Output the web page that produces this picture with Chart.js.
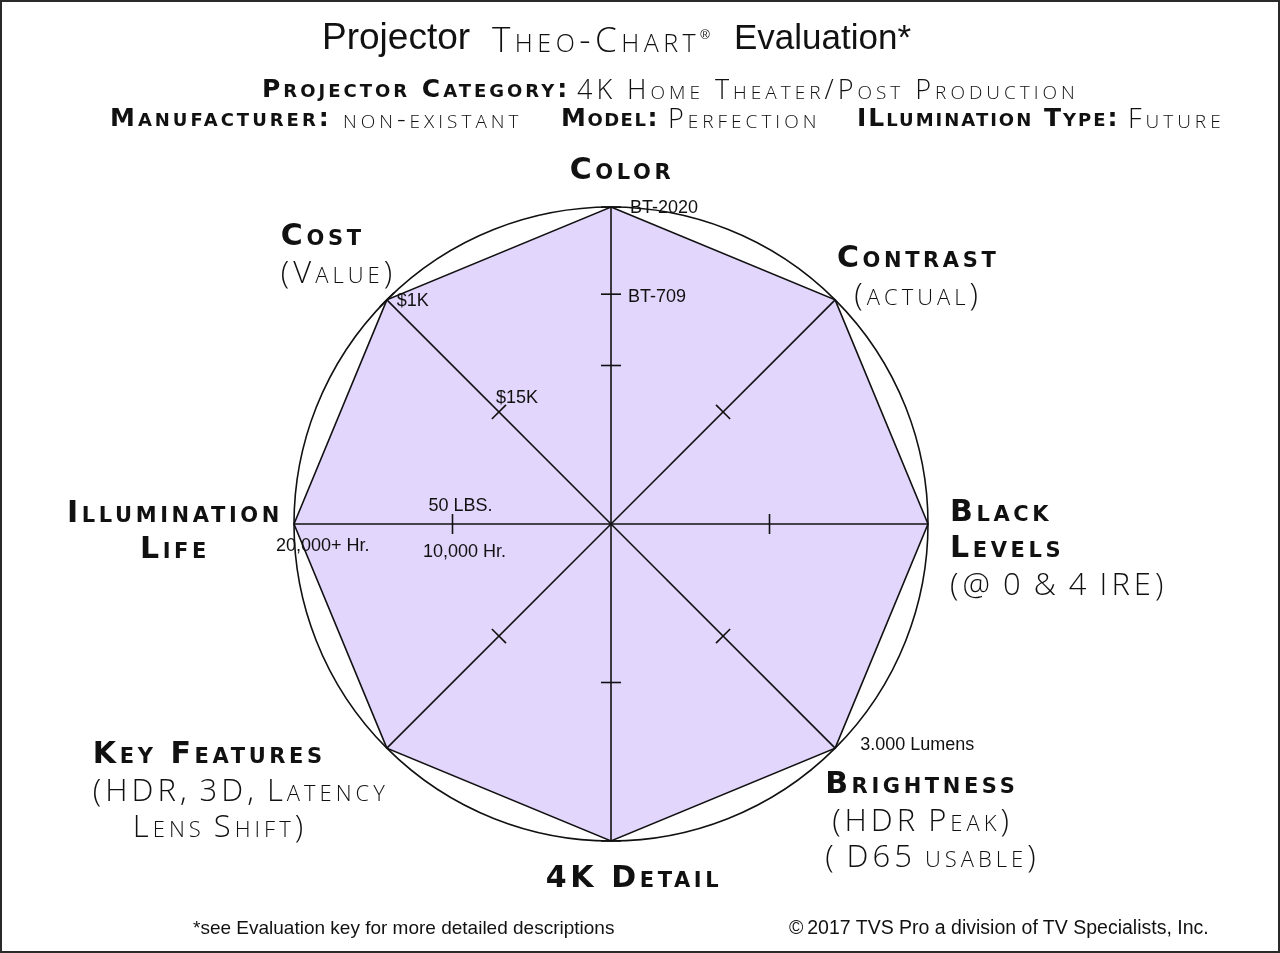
<!DOCTYPE html>
<html>
<head>
<meta charset="utf-8">
<script src="https://cdn.jsdelivr.net/npm/chart.js@4.4.1/dist/chart.umd.min.js"></script>
<style>
  html, body { margin: 0; padding: 0; background: #fff; }
  #wrap { position: relative; width: 1280px; height: 953px; overflow: hidden; }
  #wrap canvas { position: absolute; left: 0; top: 0; }
  .frame { position: absolute; left: 0; top: 0; width: 1280px; height: 953px; box-sizing: border-box;
           border: 2px solid #2a2a2a; pointer-events: none; }
  .txt { position: absolute; white-space: nowrap; color: #111; line-height: 1; }
  .cap { font-family: 'DejaVu Sans', sans-serif; font-variant: small-caps; }
  .b { font-weight: bold; }
  .l { font-family: 'Open Sans', 'DejaVu Sans', sans-serif; font-weight: 300; }
  .arial { font-family: 'Liberation Sans', Arial, sans-serif; }
  .hdr { font-size: 25px; letter-spacing: 3px; }
  .hdr.l { font-size: 27px; letter-spacing: 4px; }
  .lbl { position: absolute; white-space: nowrap; color: #111; line-height: 36px; }
  .lbl .b { font-size: 30px; letter-spacing: 3.6px; }
  .lbl .l { font-size: 31px; letter-spacing: 4px; word-spacing: -3px; }
  .note { position: absolute; white-space: nowrap; font-family: 'Liberation Sans', Arial, sans-serif;
          font-size: 18px; line-height: 1; color: #111; transform: translateY(-50%); }
</style>
</head>
<body>
<div id="wrap">
  <canvas id="radar" width="1280" height="953"></canvas>

  <div class="txt arial" style="left:322px; top:18px; font-size:37px;">Projector</div>
  <div class="txt cap l" style="left:492px; top:21px; font-size:35px; letter-spacing:4.5px;">Theo-Chart<sup style="font-family:'Liberation Sans',Arial,sans-serif; font-size:13px; letter-spacing:0;">&reg;</sup></div>
  <div class="txt arial" style="left:734px; top:19px; font-size:35px;">Evaluation*</div>

  <div class="txt cap hdr b" style="left:262px; top:76px;">Projector Category:</div>
  <div class="txt cap hdr l" style="left:577px; top:75px;">4K Home Theater/Post Production</div>
  <div class="txt cap hdr b" style="left:110px; top:105px;">Manufacturer:</div>
  <div class="txt cap hdr l" style="left:343px; top:104px;">non-existant</div>
  <div class="txt cap hdr b" style="left:561px; top:105px; letter-spacing:1.5px;">Model:</div>
  <div class="txt cap hdr l" style="left:668px; top:104px;">Perfection</div>
  <div class="txt cap hdr b" style="left:857px; top:105px; letter-spacing:2px;">ILlumination Type:</div>
  <div class="txt cap hdr l" style="left:1128px; top:104px;">Future</div>

  <div class="txt arial" style="left:193px; top:918px; font-size:19px;">*see Evaluation key for more detailed descriptions</div>
  <div class="txt arial" style="left:789px; top:918px; font-size:19.5px;">&copy;&thinsp;2017 TVS Pro a division of TV Specialists, Inc.</div>

  <div id="labels"></div>
  <div class="frame"></div>
</div>

<script>
// axes, clockwise from the top
const axisLabels = ['Color', 'Contrast', 'Black Levels', 'Brightness', '4K Detail', 'Key Features', 'Illumination Life', 'Cost'];
const scores = [10, 10, 10, 10, 10, 10, 10, 10];

// printed label lines per axis, and how many of them are the bold title
const labelLines = [
    ['Color'],
    ['Contrast', '(actual)'],
    ['Black', 'Levels', '(@ 0 & 4 IRE)'],
    ['Brightness', '(HDR Peak)', '( D65 usable)'],
    ['4K Detail'],
    ['Key Features', '(HDR, 3D, Latency', 'Lens Shift)'],
    ['Illumination', 'Life'],
    ['Cost', '(Value)']
];
const boldLines = [1, 1, 2, 1, 1, 1, 2, 1];

// little cross marks on the spokes (axis index, value)
const markAxis = [0, 0, 0, 1, 2, 3, 4, 4, 5, 6, 7, 7];
const markValue = [5, 7.25, 10, 5, 5, 5, 5, 10, 5, 5, 5, 10];

// scale notes (axis index, value, text)
const noteAxis = [0, 0, 7, 7, 6, 6, 6, 3];
const noteValue = [10, 7.25, 10, 5, 5, 5, 10, 10];
const noteText = ['BT-2020', 'BT-709', '$1K', '$15K', '50 LBS.', '10,000 Hr.', '20,000+ Hr.', '3.000 Lumens'];

// layout only: offsets from the axis end point
const labelPlace = [
    { dx: 11, dy: -56, align: 'center' },
    { dx: 83, dy: -61, align: 'center' },
    { dx: 22, dy: -31, align: 'left' },
    { dx: -10, dy: 17, align: 'left', indent: [0, 7, 0] },
    { dx: 23, dy: 18, align: 'center' },
    { dx: -294, dy: -13, align: 'left', indent: [0, 0, 40] },
    { dx: -119, dy: -30, align: 'center' },
    { dx: -106, dy: -83, align: 'left' }
];
const notePlace = [
    { dx: 19, dy: 0, align: 'left' },
    { dx: 17, dy: 2, align: 'left' },
    { dx: 10, dy: 0, align: 'left' },
    { dx: -3, dy: -15, align: 'left' },
    { dx: 8, dy: -19, align: 'center' },
    { dx: 12, dy: 27, align: 'center' },
    { dx: -18, dy: 21, align: 'left' },
    { dx: 25, dy: -4, align: 'left' }
];

const labelBox = document.getElementById('labels');
const labelEls = labelLines.map((lines, i) => {
    const el = document.createElement('div');
    el.className = 'lbl cap';
    el.style.textAlign = labelPlace[i].align;
    el.innerHTML = lines.map((t, k) => {
        const ind = labelPlace[i].indent ? labelPlace[i].indent[k] : 0;
        const cls = k < boldLines[i] ? 'b' : 'l';
        return '<div class="' + cls + '" style="padding-left:' + ind + 'px">' + t.replace(/&/g, '&amp;') + '</div>';
    }).join('');
    labelBox.appendChild(el);
    return el;
});
const noteEls = noteText.map((t, k) => {
    const el = document.createElement('div');
    el.className = 'note';
    el.textContent = t;
    labelBox.appendChild(el);
    return el;
});

const overlay = {
    id: 'overlay',
    afterDraw(chart) {
        const scale = chart.scales.r;
        const ctx = chart.ctx;
        ctx.save();
        ctx.strokeStyle = '#111';
        ctx.lineWidth = 1.6;
        markAxis.forEach((axis, k) => {
            const p = scale.getPointPositionForValue(axis, markValue[k]);
            const a = scale.getIndexAngle(axis) - Math.PI / 2;
            const nx = -Math.sin(a) * 10, ny = Math.cos(a) * 10;
            ctx.beginPath();
            ctx.moveTo(p.x - nx, p.y - ny);
            ctx.lineTo(p.x + nx, p.y + ny);
            ctx.stroke();
        });
        ctx.restore();

        labelEls.forEach((el, i) => {
            const p = scale.getPointPositionForValue(i, scale.max);
            const pl = labelPlace[i];
            el.style.left = (p.x + pl.dx) + 'px';
            el.style.top = (p.y + pl.dy) + 'px';
            if (pl.align === 'center') el.style.transform = 'translateX(-50%)';
        });
        noteEls.forEach((el, k) => {
            const p = scale.getPointPositionForValue(noteAxis[k], noteValue[k]);
            const pl = notePlace[k];
            el.style.left = (p.x + pl.dx) + 'px';
            el.style.top = (p.y + pl.dy) + 'px';
            if (pl.align === 'center') el.style.transform = 'translate(-50%, -50%)';
        });
    }
};

const ctx = document.getElementById('radar').getContext('2d');
new Chart(ctx, {
    type: 'radar',
    data: {
        labels: axisLabels,
        datasets: [{
            data: scores,
            backgroundColor: '#e3d6fc',
            borderColor: '#111',
            borderWidth: 1.6,
            pointRadius: 0,
            fill: true
        }]
    },
    options: {
        responsive: false,
        animation: false,
        devicePixelRatio: 1,
        layout: { padding: { left: 294, right: 352, top: 207, bottom: 112 } },
        scales: {
            r: {
                min: 0,
                max: 10,
                ticks: { display: false, stepSize: 5 },
                pointLabels: { display: false },
                grid: {
                    circular: true,
                    z: 1,
                    lineWidth: 1.6,
                    color: c => (c.tick && c.tick.value === 10) ? '#111' : 'rgba(0,0,0,0)'
                },
                angleLines: { display: true, color: '#111', lineWidth: 1.6 }
            }
        },
        plugins: {
            legend: { display: false },
            tooltip: { enabled: false }
        }
    },
    plugins: [overlay]
});
</script>
</body>
</html>
